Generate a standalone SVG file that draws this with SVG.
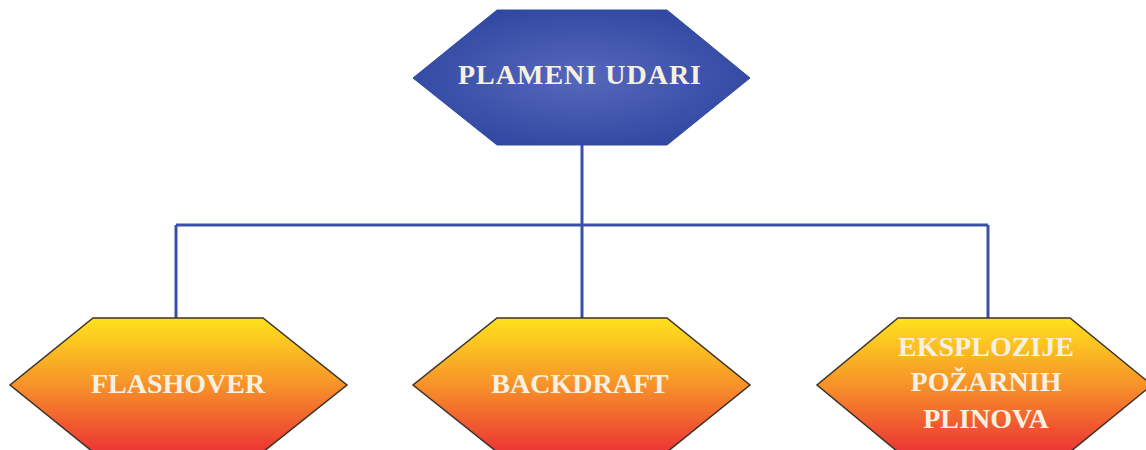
<svg xmlns="http://www.w3.org/2000/svg" width="1146" height="450" viewBox="0 0 1146 450">
<defs>
<radialGradient id="blue" cx="0.5" cy="0.5" r="0.6">
<stop offset="0" stop-color="#5668bb"/>
<stop offset="1" stop-color="#2d45a0"/>
</radialGradient>
<linearGradient id="fire" x1="0" y1="0" x2="0" y2="1">
<stop offset="0" stop-color="#ffe21c"/>
<stop offset="0.5" stop-color="#f7922a"/>
<stop offset="1" stop-color="#ec3434"/>
</linearGradient>
<style>
.hexb{fill:url(#blue);stroke:#3248a0;stroke-width:1}
.hexf{fill:url(#fire);stroke:#3a3228;stroke-width:1.5}
.t{font-family:"Liberation Serif","Times New Roman",serif;font-weight:bold;font-size:28px;fill:#f8f1e2;text-anchor:middle}
.c{stroke:#3a50a8;stroke-width:3;fill:none}
</style>
</defs>
<g id="connectors">
<path class="c" d="M582 145 V318"/>
<path class="c" d="M176 225 H988"/>
<path class="c" d="M176 225 V318"/>
<path class="c" d="M988 225 V318"/>
</g>
<g id="plameni-udari">
<polygon class="hexb" points="497,10 667,10 750,78 667,145 497,145 413,78"/>
<text class="t" x="580" y="84" font-size="27" letter-spacing="1">PLAMENI UDARI</text>
</g>
<g id="flashover">
<polygon class="hexf" points="93,318 263,318 347,385 263,452 93,452 10,385"/>
<text class="t" x="178" y="393">FLASHOVER</text>
</g>
<g id="backdraft">
<polygon class="hexf" points="497,318 667,318 750,385 667,452 497,452 413,385"/>
<text class="t" x="580" y="393">BACKDRAFT</text>
</g>
<g id="eksplozije">
<polygon class="hexf" points="898,318 1070,318 1152,385 1070,452 898,452 817,385"/>
<text class="t" x="986" y="356">EKSPLOZIJE</text>
<text class="t" x="986" y="391">POŽARNIH</text>
<text class="t" x="986" y="428">PLINOVA</text>
</g>
</svg>
